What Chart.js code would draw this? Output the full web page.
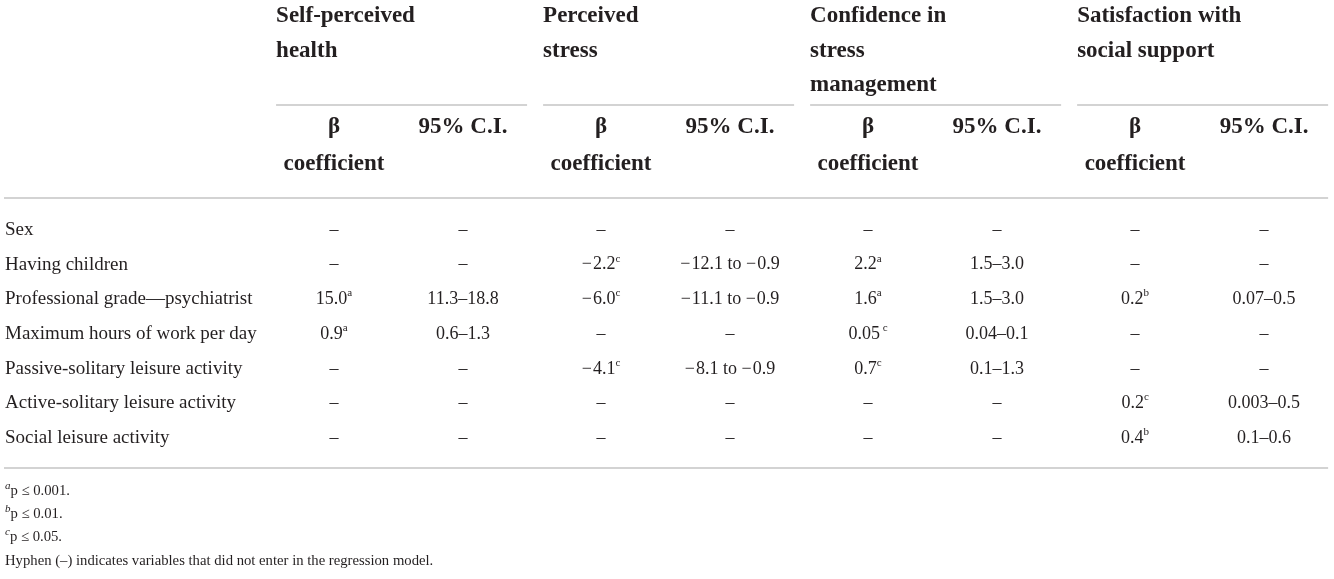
<!DOCTYPE html>
<html>
<head>
    <script src="https://cdn.jsdelivr.net/npm/chart.js"></script>
    <style>
        html, body { margin: 0; padding: 0; background: #fff; }
        #wrap { width: 1334px; height: 579px; }
    </style>
</head>
<body>
<div id="wrap"><canvas id="regTable" width="1334" height="579"></canvas></div>
<script>
// table content
const rowLabels = ['Sex', 'Having children', 'Professional grade\u2014psychiatrist', 'Maximum hours of work per day',
    'Passive-solitary leisure activity', 'Active-solitary leisure activity', 'Social leisure activity'];
const groupTitles = [
    ['Self-perceived', 'health'],
    ['Perceived', 'stress'],
    ['Confidence in', 'stress', 'management'],
    ['Satisfaction with', 'social support']
];
const subHeads = [['\u03b2', 'coefficient'], ['95% C.I.']];

const D = '\u2013';
const betaHealth = [D, D, '15.0', '0.9', D, D, D];
const supHealth = ['', '', 'a', 'a', '', '', ''];
const ciHealth = [D, D, '11.3\u201318.8', '0.6\u20131.3', D, D, D];

const betaStress = [D, '\u22122.2', '\u22126.0', D, '\u22124.1', D, D];
const supStress = ['', 'c', 'c', '', 'c', '', ''];
const ciStress = [D, '\u221212.1 to \u22120.9', '\u221211.1 to \u22120.9', D, '\u22128.1 to \u22120.9', D, D];

const betaConf = [D, '2.2', '1.6', '0.05', '0.7', D, D];
const supConf = ['', 'a', 'a', ' c', 'c', '', ''];
const ciConf = [D, '1.5\u20133.0', '1.5\u20133.0', '0.04\u20130.1', '0.1\u20131.3', D, D];

const betaSupport = [D, D, '0.2', D, D, '0.2', '0.4'];
const supSupport = ['', '', 'b', '', '', 'c', 'b'];
const ciSupport = [D, D, '0.07\u20130.5', D, D, '0.003\u20130.5', '0.1\u20130.6'];

const noteMarks = ['a', 'b', 'c', ''];
const noteTexts = ['p \u2264 0.001.', 'p \u2264 0.01.', 'p \u2264 0.05.',
    'Hyphen (\u2013) indicates variables that did not enter in the regression model.'];

// columns: [values, superscripts, group, sub]
const columns = [
    [betaHealth, supHealth, 0, 0], [ciHealth, null, 0, 1],
    [betaStress, supStress, 1, 0], [ciStress, null, 1, 1],
    [betaConf, supConf, 2, 0], [ciConf, null, 2, 1],
    [betaSupport, supSupport, 3, 0], [ciSupport, null, 3, 1]
];

// layout in scale units (x: group index, y: row index)
const L = {
    ciOffset: 0.483, groupLeft: -0.217, groupRight: 0.723,
    titleRows: [-6.16, -5.16, -4.18], groupRule: -3.6,
    subRows: [-2.96, -1.9], headRule: -0.92, bottomRule: 6.86,
    noteRows: [7.52, 8.18, 8.85, 9.54]
};
const SERIF = '"Liberation Serif", "DejaVu Serif", serif';
const INK = '#231f20';
const MINUS = '\u2212';

const datasets = columns.map(c => ({
    data: c[0].map((v, i) => ({ x: c[2] + c[3] * L.ciOffset, y: i })),
    pointRadius: 0
}));

// minus signs get a hair of air after them, like the typeset original
function pieces(txt) {
    return txt.split(MINUS).reduce((acc, p, i) => {
        if (i > 0) acc.push({ t: MINUS, gap: 1 });
        if (p) acc.push({ t: p, gap: 0 });
        return acc;
    }, []);
}

function drawRich(ctx, txt, sup, x, y, size) {
    const supSize = Math.round(size * 0.62);
    ctx.font = size + 'px ' + SERIF;
    const parts = pieces(txt);
    const w = parts.reduce((s, p) => s + ctx.measureText(p.t).width + p.gap, 0);
    let sw = 0;
    if (sup) {
        ctx.font = supSize + 'px ' + SERIF;
        sw = ctx.measureText(sup).width;
    }
    let cx = x - (w + sw) / 2;
    ctx.textAlign = 'left';
    ctx.font = size + 'px ' + SERIF;
    parts.forEach(p => {
        ctx.fillText(p.t, cx, y);
        cx += ctx.measureText(p.t).width + p.gap;
    });
    if (sup) {
        ctx.font = supSize + 'px ' + SERIF;
        ctx.fillText(sup, cx, y - size * 0.33);
    }
}

const tablePlugin = {
    id: 'tablePlugin',
    afterDatasetsDraw(chart) {
        const ctx = chart.ctx;
        const xs = chart.scales.x, ys = chart.scales.y;
        const left = chart.chartArea.left + 5;
        ctx.save();
        ctx.fillStyle = INK;
        ctx.textBaseline = 'middle';

        // rules
        ctx.strokeStyle = '#c4c4c4';
        ctx.lineWidth = 1.5;
        groupTitles.forEach((g, gi) => {
            const y = ys.getPixelForValue(L.groupRule);
            ctx.beginPath();
            ctx.moveTo(xs.getPixelForValue(gi + L.groupLeft), y);
            ctx.lineTo(xs.getPixelForValue(gi + L.groupRight), y);
            ctx.stroke();
        });
        [L.headRule, L.bottomRule].forEach(r => {
            const y = ys.getPixelForValue(r);
            ctx.beginPath();
            ctx.moveTo(left - 1, y);
            ctx.lineTo(xs.getPixelForValue(3 + L.groupRight), y);
            ctx.stroke();
        });

        // group titles
        ctx.font = 'bold 23px ' + SERIF;
        ctx.textAlign = 'left';
        groupTitles.forEach((g, gi) => {
            g.forEach((line, li) => {
                ctx.fillText(line, xs.getPixelForValue(gi + L.groupLeft), ys.getPixelForValue(L.titleRows[li]));
            });
        });

        // sub heads
        ctx.textAlign = 'center';
        groupTitles.forEach((g, gi) => {
            subHeads.forEach((s, si) => {
                s.forEach((line, li) => {
                    ctx.fillText(line, xs.getPixelForValue(gi + si * L.ciOffset), ys.getPixelForValue(L.subRows[li]));
                });
            });
        });

        // row labels
        ctx.textAlign = 'left';
        ctx.font = '19px ' + SERIF;
        rowLabels.forEach((lab, i) => ctx.fillText(lab, left, ys.getPixelForValue(i)));

        // cells
        columns.forEach((c, ci) => {
            const meta = chart.getDatasetMeta(ci);
            meta.data.forEach((pt, i) => {
                drawRich(ctx, c[0][i], c[1] ? c[1][i] : '', pt.x, pt.y, 18);
            });
        });

        // footnotes
        noteTexts.forEach((t, i) => {
            const y = ys.getPixelForValue(L.noteRows[i]);
            let x = left;
            if (noteMarks[i]) {
                ctx.font = 'italic 11px ' + SERIF;
                ctx.fillText(noteMarks[i], x, y - 5);
                x += ctx.measureText(noteMarks[i]).width;
            }
            ctx.font = '14.7px ' + SERIF;
            ctx.fillText(t, x, y);
        });
        ctx.restore();
    }
};

new Chart(document.getElementById('regTable'), {
    type: 'scatter',
    data: { datasets },
    options: {
        responsive: false,
        animation: false,
        layout: { padding: 0 },
        plugins: { legend: { display: false }, tooltip: { enabled: false } },
        scales: {
            x: { type: 'linear', display: false, min: -1.251, max: 3.745 },
            y: { type: 'linear', display: false, reverse: true, min: -6.628, max: 10.058 }
        }
    },
    plugins: [tablePlugin]
});
</script>
</body>
</html>
